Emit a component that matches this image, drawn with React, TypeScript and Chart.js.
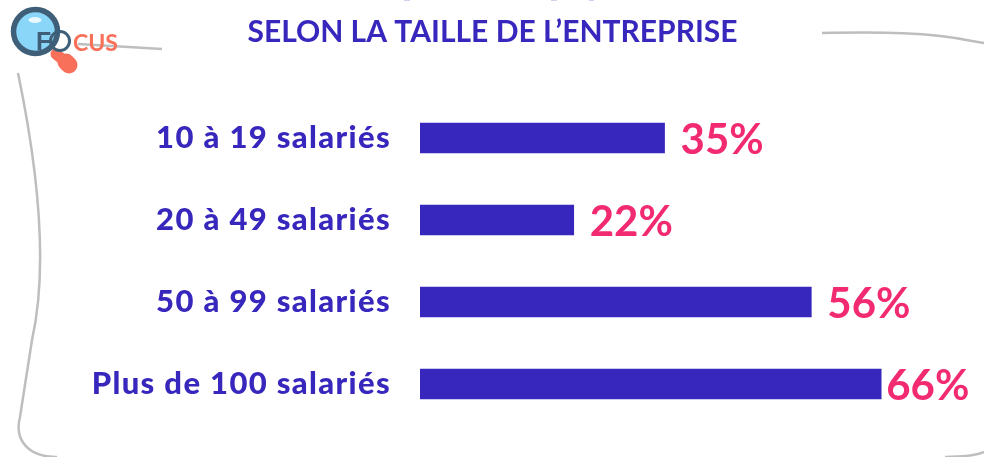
import React, { useEffect, useRef } from "react";
import { Chart, registerables } from "chart.js";

Chart.register(...registerables);

const categories = ["10 à 19 salariés", "20 à 49 salariés", "50 à 99 salariés", "Plus de 100 salariés"];
const values = [35, 22, 56, 66];
const titleText = "SELON LA TAILLE DE L’ENTREPRISE";
const FONT = "Lato";
const BLUE = "#3827BC";
const PINK = "#F22A72";
const ORANGE = "#F9705A";
const SLATE = "#3F5F78";
const GREY = "#BEBEBE";

const decorations = {
  id: "decorations",
  beforeDraw(chart: any) {
    const c = chart.ctx;
    c.save();
    c.strokeStyle = GREY;
    c.lineWidth = 2.5;
    c.lineCap = "butt";
    c.beginPath();
    c.moveTo(78, 44);
    c.lineTo(162, 49);
    c.stroke();
    c.beginPath();
    c.moveTo(822, 33);
    c.bezierCurveTo(880, 32, 930, 32, 972, 41);
    c.lineTo(984, 43);
    c.stroke();
    c.beginPath();
    c.moveTo(18, 73);
    c.bezierCurveTo(34, 150, 50, 260, 32, 340);
    c.lineTo(20, 417);
    c.bezierCurveTo(14, 440, 28, 457, 57, 457);
    c.stroke();
    c.beginPath();
    c.moveTo(945, 457);
    c.quadraticCurveTo(972, 457, 984, 452);
    c.stroke();
    // clipped descenders of the line above the title
    c.fillStyle = "#D5D0F0";
    [[404, 6], [551, 6], [589, 5]].forEach(([x, w]) => c.fillRect(x, 0, w, 1));
    // title
    c.fillStyle = BLUE;
    c.font = `700 30px ${FONT}`;
    c.textAlign = "center";
    c.textBaseline = "middle";
    c.fillText(titleText, 492.5, 32);
    c.restore();
    c.letterSpacing = "1.35px";
  },
  afterDraw(chart: any) {
    const c = chart.ctx;
    c.letterSpacing = "0px";
    c.save();
    // data labels
    const meta = chart.getDatasetMeta(0);
    c.fillStyle = PINK;
    c.font = `700 42px ${FONT}`;
    c.textAlign = "left";
    c.textBaseline = "middle";
    meta.data.forEach((bar: any, i: number) => {
      const gap = values[i] === 66 ? 5 : 16;
      c.fillText(`${values[i]}%`, bar.x + gap, bar.y + 2);
    });
    // FOCUS magnifier logo
    c.strokeStyle = ORANGE;
    c.lineCap = "round";
    c.lineWidth = 11;
    c.beginPath();
    c.moveTo(56, 54);
    c.lineTo(62, 59);
    c.stroke();
    c.lineWidth = 17;
    c.beginPath();
    c.moveTo(66, 62);
    c.lineTo(69, 65);
    c.stroke();
    c.fillStyle = "#8AD6F9";
    c.strokeStyle = SLATE;
    c.lineWidth = 5.5;
    c.beginPath();
    c.arc(35.5, 31.5, 22, 0, Math.PI * 2);
    c.fill();
    c.stroke();
    c.fillStyle = "#EAF8FF";
    c.beginPath();
    c.ellipse(35, 20, 6.5, 3, 0, 0, Math.PI * 2);
    c.fill();
    c.font = `700 25px "Liberation Sans"`;
    c.textBaseline = "alphabetic";
    c.fillStyle = SLATE;
    c.fillText("F", 36, 50);
    c.strokeStyle = SLATE;
    c.lineWidth = 3;
    c.beginPath();
    c.arc(60, 41, 9.5, 0, Math.PI * 2);
    c.stroke();
    c.fillStyle = ORANGE;
    c.font = `700 23px Lato`;
    c.fillText("CUS", 73, 51);
    c.restore();
  },
};

export default function App() {
  const ref = useRef<HTMLCanvasElement>(null);
  useEffect(() => {
    const chart = new Chart(ref.current!, {
      type: "bar",
      data: {
        labels: categories,
        datasets: [{ data: values, backgroundColor: BLUE, barThickness: 30 }],
      },
      plugins: [decorations],
      options: {
        indexAxis: "y",
        responsive: false,
        animation: false,
        layout: { padding: { left: 0, right: 5, top: 97, bottom: 32 } },
        plugins: {
          legend: { display: false },
          tooltip: { enabled: false },
          title: { display: false },
        },
        scales: {
          x: { min: 0, max: 80, display: false },
          y: {
            afterFit(scale: any) {
              scale.width = 420;
              scale.paddingTop = 0;
              scale.paddingBottom = 0;
            },
            border: { display: false },
            grid: { display: false, drawTicks: false },
            ticks: {
              color: BLUE,
              padding: 29,
              font: { family: FONT, weight: "900", size: 31 },
            },
          },
        },
      },
    } as any);
    return () => chart.destroy();
  }, []);
  return (
    <div style={{ position: "absolute", left: 0, top: 0, width: 984, height: 457, background: "#fff" }}>
      <canvas ref={ref} width={984} height={457} style={{ display: "block" }} />
    </div>
  );
}
